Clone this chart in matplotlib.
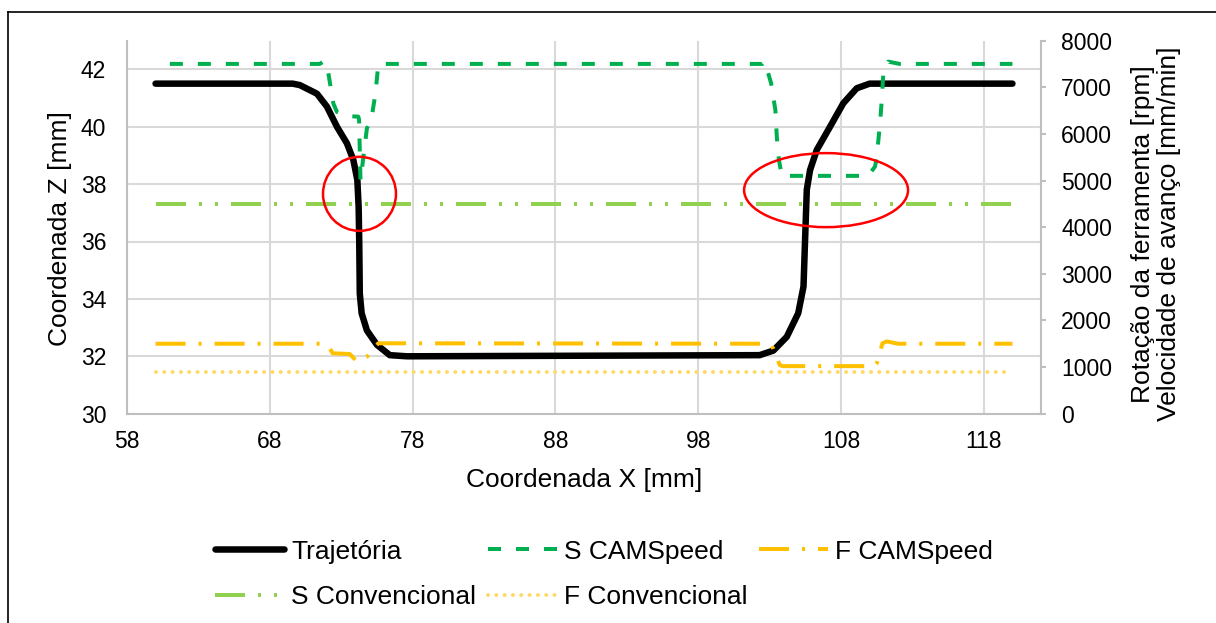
import matplotlib
matplotlib.use("Agg")
import matplotlib.pyplot as plt
from matplotlib.patches import Ellipse
from matplotlib.lines import Line2D

plt.rcParams['font.family'] = ['Liberation Sans', 'DejaVu Sans']
plt.rcParams['lines.scale_dashes'] = False

W, H = 1216, 623
DPI = 100
FS = 16.5
FS_T = 19
PT = 0.72  # points per pixel at dpi 100

# ---------------- data ----------------
traj_x = [60, 69.6, 70.1, 71.3, 72.0, 72.7, 73.4, 73.85, 74.13, 74.22, 74.26, 74.3,
          74.43, 74.8, 75.5, 76.4, 77.6, 102.3, 103.26, 104.2, 105.0, 105.37, 105.48,
          105.6, 105.83, 106.3, 107.23, 108.16, 109.1, 110.0, 120]
traj_z = [41.5, 41.5, 41.45, 41.15, 40.7, 40.0, 39.42, 38.84, 38.14, 37.2, 36.05, 34.19,
          33.5, 32.9, 32.4, 32.04, 32.0, 32.04, 32.2, 32.68, 33.5, 34.43, 36.05,
          37.8, 38.49, 39.19, 40.0, 40.82, 41.34, 41.5, 41.5]

s_cam_x = [61, 71.5, 71.8, 72.1, 72.45, 72.7, 73.4, 74.2, 74.25, 74.35, 74.8, 75.1, 75.4,
           75.6, 102.5, 102.65, 102.8, 103.1, 103.4, 103.5, 103.65, 103.85, 109.9, 110.38,
           110.5, 110.73, 110.85, 110.96, 111.3, 112.1, 120]
s_cam_v = [7500, 7500, 7560, 7300, 6650, 6470, 6380, 6370, 6300, 5000, 6120, 6300, 6870,
           7500, 7500, 7550, 7400, 7090, 6510, 5940, 5440, 5100, 5100, 5300,
           5510, 6230, 6720, 7300, 7550, 7500, 7500]

f_cam_x = [60, 71.9, 72.2, 72.4, 73.6, 74.0, 74.2, 74.4, 74.8, 75.1, 75.6, 103.0, 103.25,
           103.7, 103.9, 110.3, 110.5, 110.9, 111.2, 112.0, 120]
f_cam_v = [1500, 1500, 1400, 1295, 1280, 1150, 1115, 1150, 1220, 1330, 1510, 1500, 1400,
           1045, 1020, 1020, 1080, 1510, 1550, 1500, 1500]

s_conv_x = [60, 120]
s_conv_v = [4500, 4500]
f_conv_x = [60, 120]
f_conv_v = [900, 900]

x_ticks = [58, 68, 78, 88, 98, 108, 118]
z_ticks = [30, 32, 34, 36, 38, 40, 42]
v_ticks = [0, 1000, 2000, 3000, 4000, 5000, 6000, 7000, 8000]

# highlight ellipses (center x, center z, width, height) in data units
ellipses = [(74.28, 37.66, 5.11, 2.58), (106.95, 37.79, 11.48, 2.58)]

# ---------------- styles ----------------
C_BLACK = '#000000'
C_SCAM = '#00B050'
C_FCAM = '#FFC000'
C_SCONV = '#92D050'
C_FCONV = '#FFD966'
GRID = '#D9D9D9'
SPINE = '#BFBFBF'

fig = plt.figure(figsize=(W / DPI, H / DPI), dpi=DPI)
L, R, T, B = 127, 1041, 40.6, 413.7
ax = fig.add_axes([L / W, 1 - B / H, (R - L) / W, (B - T) / H])
ax2 = ax.twinx()

styles = {
    'traj': dict(color=C_BLACK, lw=6.5 * PT, solid_capstyle='round', solid_joinstyle='round'),
    'scam': dict(color=C_SCAM, lw=4 * PT, dashes=(13 * PT, 15 * PT), dash_capstyle='butt'),
    'fcam': dict(color=C_FCAM, lw=4 * PT, dashes=(30 * PT, 13 * PT, 3 * PT, 13 * PT), dash_capstyle='butt'),
    'sconv': dict(color=C_SCONV, lw=4 * PT, dashes=(30 * PT, 13 * PT, 3 * PT, 13 * PT, 3 * PT, 13 * PT),
                  dash_capstyle='butt'),
    'fconv': dict(color=C_FCONV, lw=4 * PT, dashes=(0.01, 8.3 * PT), dash_capstyle='round'),
}

ax.plot(traj_x, traj_z, zorder=3, **styles['traj'])
ax2.plot(s_cam_x, s_cam_v, zorder=3, **styles['scam'])
ax2.plot(f_cam_x, f_cam_v, zorder=3, **styles['fcam'])
ax2.plot(s_conv_x, s_conv_v, zorder=3, **styles['sconv'])
ax2.plot(f_conv_x, f_conv_v, zorder=3, **styles['fconv'])

for cx, cz, w, h in ellipses:
    e = Ellipse((cx, cz), w, h, transform=ax.transData, fill=False,
                edgecolor='#FF0000', lw=1.8, zorder=10)
    ax2.add_patch(e)

ax.set_xlim(58, 122)
ax.set_ylim(30, 43)
ax2.set_ylim(0, 8000)
ax.set_xticks(x_ticks)
ax.set_yticks(z_ticks)
ax2.set_yticks(v_ticks)

ax.grid(True, color=GRID, lw=1.5, zorder=0)
ax.set_axisbelow(True)

for s in ['top', 'right']:
    ax.spines[s].set_visible(False)
ax.spines['left'].set_color(SPINE)
ax.spines['bottom'].set_color(SPINE)
ax.spines['left'].set_linewidth(1.5)
ax.spines['bottom'].set_linewidth(1.5)
for s in ['top', 'left', 'bottom']:
    ax2.spines[s].set_visible(False)
ax2.spines['right'].set_color(SPINE)
ax2.spines['right'].set_linewidth(1.5)

ax.tick_params(axis='x', length=0, pad=12, labelsize=FS)
ax.tick_params(axis='y', length=0, pad=15, labelsize=FS)
ax2.tick_params(axis='y', length=5 * PT, width=1.5, color=SPINE, direction='out', pad=11, labelsize=FS)

# axis titles
fig.text(60 / W, 1 - 229 / H, 'Coordenada Z [mm]', rotation=90, ha='center', va='center', fontsize=FS_T)
fig.text(584 / W, 1 - 480 / H, 'Coordenada X [mm]', ha='center', va='center', fontsize=FS_T)
fig.text(1156 / W, 1 - 234 / H, 'Rotação da ferramenta [rpm]\nVelocidade de avanço [mm/min]',
         rotation=90, ha='center', va='center', fontsize=FS_T, linespacing=1.15, multialignment='center')

# legend entries placed individually
entries = [
    ('Trajetória', 'traj', 215.4, 551.5),
    ('S CAMSpeed', 'scam', 487.7, 551.5),
    ('F CAMSpeed', 'fcam', 758.8, 551.5),
    ('S Convencional', 'sconv', 215.4, 597),
    ('F Convencional', 'fconv', 487.7, 597),
]
em = FS_T / PT
for label, key, px, py in entries:
    h = Line2D([], [], **styles[key])
    fig.legend([h], [label], loc='center left', bbox_to_anchor=(px / W, 1 - py / H),
               frameon=False, fontsize=FS_T, borderpad=0, borderaxespad=0,
               handlelength=69 / em, handletextpad=7 / em)

# figure border (top and left)
fig.add_artist(Line2D([7.5 / W, 7.5 / W], [0, 1 - 11.5 / H], transform=fig.transFigure, color='black', lw=1.2))
fig.add_artist(Line2D([7.5 / W, 1], [1 - 11.5 / H, 1 - 11.5 / H], transform=fig.transFigure, color='black', lw=1.2))

fig.savefig('out.png', dpi=DPI)
